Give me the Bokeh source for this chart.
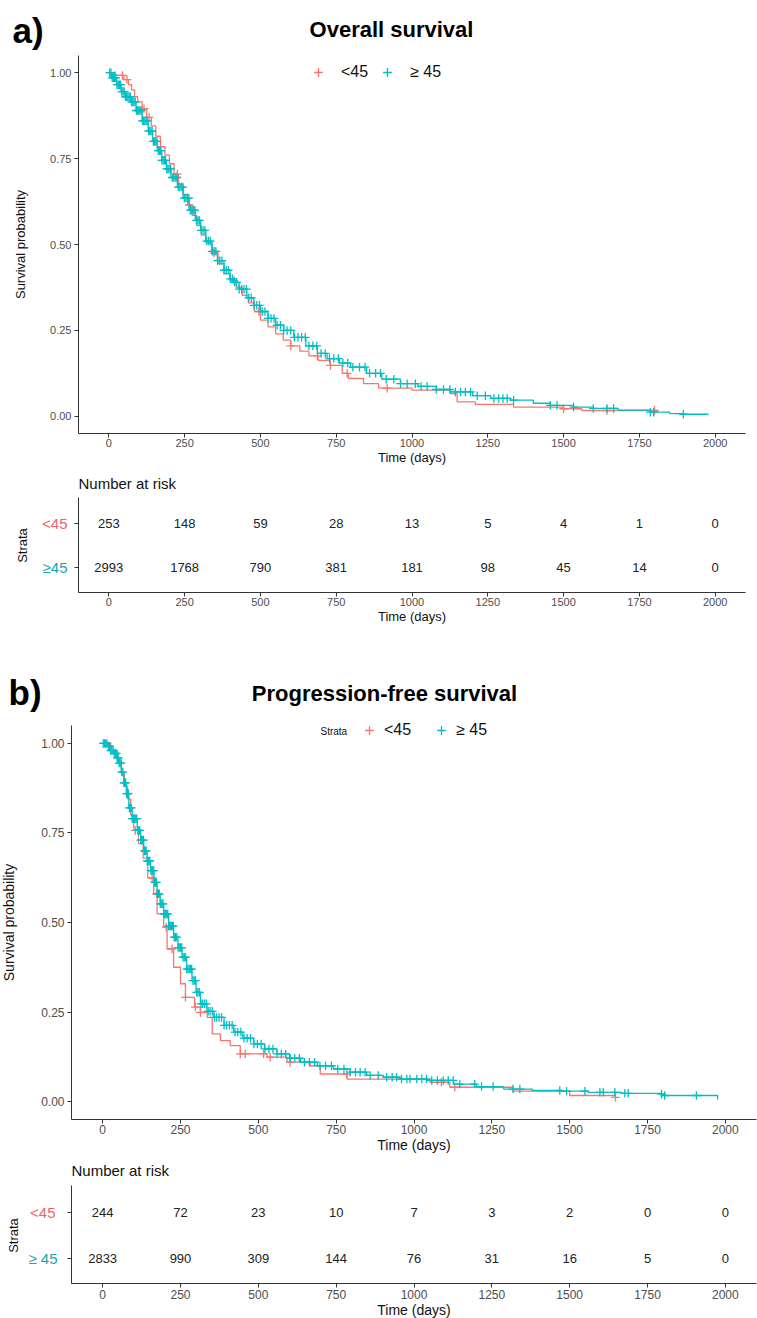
import numpy as np
from bokeh.plotting import figure
from bokeh.models import (ColumnDataSource, Range1d, FixedTicker, NumeralTickFormatter,
                          Label, Legend, LegendItem)
from bokeh.layouts import column
from bokeh.embed import file_html
from bokeh.resources import INLINE
from bokeh.core.properties import value

# ---------------- data ----------------
strata = ["<45", "≥ 45"]
x_ticks = [0, 250, 500, 750, 1000, 1250, 1500, 1750, 2000]
y_ticks = [0.0, 0.25, 0.5, 0.75, 1.0]

# Overall survival, <45
os_lo_t = [0, 20, 50, 65, 75, 85, 95, 110, 125, 140, 155, 170, 185, 200, 215, 230, 245, 260,
           275, 290, 305, 320, 340, 360, 380, 400, 420, 440, 460, 480, 500, 525, 550, 575,
           600, 630, 660, 690, 730, 770, 790, 840, 890, 1000, 1127, 1149, 1209, 1335, 1500,
           1560, 1808]
os_lo_s = [1.0, 0.992, 0.98, 0.965, 0.95, 0.93, 0.915, 0.895, 0.87, 0.845, 0.815, 0.785,
           0.76, 0.735, 0.705, 0.675, 0.645, 0.615, 0.585, 0.555, 0.527, 0.505, 0.475,
           0.445, 0.415, 0.395, 0.375, 0.352, 0.33, 0.305, 0.28, 0.26, 0.24, 0.222, 0.205,
           0.19, 0.176, 0.163, 0.148, 0.125, 0.11, 0.095, 0.082, 0.076, 0.066, 0.042, 0.035,
           0.027, 0.022, 0.017, 0.017]
os_lo_cens = [20, 45, 60, 116, 133, 171, 226, 265, 347, 413, 495, 600, 688, 731, 786, 918,
              1500, 1643, 1800]

# Overall survival, >=45
os_hi_t = [0, 10, 25, 40, 55, 72, 90, 110, 130, 145, 160, 175, 190, 205, 226, 245, 265, 285,
           303, 320, 340, 358, 380, 400, 412, 430, 455, 478, 500, 525, 550, 577, 610, 650,
           688, 720, 760, 797, 850, 900, 962, 1020, 1080, 1127, 1200, 1260, 1325, 1400, 1456,
           1530, 1598, 1680, 1786, 1850, 1895, 1977]
os_hi_s = [1.0, 0.985, 0.965, 0.945, 0.93, 0.915, 0.89, 0.86, 0.83, 0.80, 0.773, 0.745,
           0.72, 0.695, 0.667, 0.635, 0.60, 0.57, 0.541, 0.51, 0.48, 0.453, 0.425, 0.40,
           0.39, 0.37, 0.345, 0.323, 0.305, 0.285, 0.265, 0.25, 0.23, 0.205, 0.183, 0.168,
           0.155, 0.143, 0.125, 0.108, 0.095, 0.087, 0.078, 0.071, 0.06, 0.052, 0.047, 0.038,
           0.032, 0.027, 0.023, 0.018, 0.012, 0.008, 0.006, 0.005]
os_hi_cens = [3, 7, 11, 15, 19, 23, 27, 31, 35, 39, 43, 47, 51, 55, 59, 63, 67, 71, 75, 79,
              83, 87, 91, 95, 99, 103, 107, 111, 115, 119, 123, 127, 131, 135, 139, 143, 147,
              151, 155, 159, 163, 167, 171, 175, 179, 183, 187, 191, 195, 199, 204, 209, 214,
              219, 224, 229, 234, 239, 244, 249, 254, 259, 264, 269, 274, 279, 284, 289, 294,
              299, 305, 311, 317, 323, 329, 335, 341, 347, 353, 359, 366, 373, 380, 387, 394,
              401, 408, 415, 422, 430, 438, 446, 454, 462, 470, 479, 488, 497, 506, 515, 525,
              535, 545, 555, 566, 577, 588, 600, 612, 624, 636, 648, 660, 673, 686, 700, 714,
              728, 742, 757, 772, 788, 805, 827, 845, 860, 880, 896, 915, 940, 962, 984, 1011,
              1030, 1050, 1080, 1104, 1125, 1143, 1160, 1176, 1193, 1215, 1242, 1270, 1286,
              1300, 1314, 1335, 1456, 1478, 1533, 1598, 1643, 1665, 1786, 1797, 1895]

# Progression-free survival, <45
pfs_lo_t = [0, 26, 47, 60, 70, 80, 90, 100, 115, 130, 145, 164, 175, 196, 207, 228, 250, 266,
            295, 314, 336, 352, 378, 410, 442, 528, 592, 667, 699, 785, 1051, 1115, 1318, 1500,
            1647]
pfs_lo_s = [1.0, 0.98, 0.95, 0.915, 0.88, 0.845, 0.80, 0.757, 0.72, 0.68, 0.625, 0.58, 0.524,
            0.487, 0.426, 0.375, 0.329, 0.291, 0.264, 0.249, 0.235, 0.189, 0.17, 0.156, 0.133,
            0.124, 0.11, 0.10, 0.077, 0.063, 0.054, 0.04, 0.029, 0.017, 0.012]
pfs_lo_cens = [105, 159, 173, 204, 223, 266, 298, 314, 442, 458, 517, 538, 602, 784, 1088,
               1131, 1647]

# Progression-free survival, >=45
pfs_hi_t = [0, 15, 26, 36, 45, 52, 60, 68, 76, 84, 95, 111, 122, 132, 143, 154, 165, 175, 185,
            196, 212, 228, 242, 255, 270, 287, 300, 314, 335, 357, 390, 421, 450, 485, 520, 560,
            600, 635, 690, 741, 795, 848, 902, 955, 1041, 1128, 1200, 1288, 1380, 1474, 1560,
            1667, 1795, 1805, 1975]
pfs_hi_s = [1.0, 0.993, 0.98, 0.972, 0.96, 0.945, 0.92, 0.89, 0.86, 0.82, 0.79, 0.757, 0.73,
            0.70, 0.672, 0.645, 0.612, 0.58, 0.552, 0.524, 0.49, 0.459, 0.43, 0.403, 0.37,
            0.338, 0.305, 0.273, 0.252, 0.235, 0.213, 0.194, 0.177, 0.161, 0.147, 0.133,
            0.121, 0.11, 0.10, 0.091, 0.082, 0.073, 0.068, 0.063, 0.059, 0.049, 0.042, 0.035,
            0.031, 0.029, 0.026, 0.023, 0.021, 0.017, 0.006]
pfs_hi_cens = [2, 6, 10, 14, 18, 22, 26, 30, 34, 38, 41, 44, 47, 50, 53, 56, 59, 62, 65, 68,
               71, 74, 77, 80, 83, 86, 89, 92, 95, 98, 101, 104, 107, 110, 113, 116, 119, 122,
               125, 128, 131, 134, 137, 140, 143, 146, 149, 152, 155, 158, 161, 164, 167, 170,
               173, 176, 179, 182, 185, 188, 191, 194, 197, 200, 203, 206, 209, 212, 215, 218,
               221, 224, 227, 230, 234, 238, 242, 246, 250, 254, 258, 262, 266, 270, 274, 278,
               282, 286, 290, 294, 298, 302, 306, 311, 316, 321, 327, 333, 339, 345, 352, 359,
               366, 374, 382, 390, 398, 407, 416, 425, 434, 444, 454, 464, 475, 486, 497, 509,
               521, 534, 547, 560, 574, 588, 602, 617, 632, 648, 664, 681, 698, 716, 735, 755,
               775, 795, 812, 827, 843, 859, 885, 912, 930, 944, 960, 977, 987, 1009, 1025,
               1040, 1057, 1075, 1094, 1110, 1126, 1147, 1195, 1217, 1254, 1318, 1340, 1468,
               1490, 1549, 1597, 1608, 1645, 1677, 1688, 1795, 1805, 1907]

# Number at risk
risk_times = [0, 250, 500, 750, 1000, 1250, 1500, 1750, 2000]
os_risk_lo = [253, 148, 59, 28, 13, 5, 4, 1, 0]
os_risk_hi = [2993, 1768, 790, 381, 181, 98, 45, 14, 0]
pfs_risk_lo = [244, 72, 23, 10, 7, 3, 2, 0, 0]
pfs_risk_hi = [2833, 990, 309, 144, 76, 31, 16, 5, 0]

# ---------------- style ----------------
RED = "#F8766D"
CYAN = "#00BFC4"
RED_TXT = "#E8646A"
CYAN_TXT = "#17A5AB"
FONT = "Liberation Sans"
AX = "#333333"
W = 757


def step_at(times, surv, t):
    idx = np.searchsorted(np.asarray(times), np.asarray(t), side="right") - 1
    return np.asarray(surv)[idx]


def make_fig(H, frame_px, xd, yd):
    """Figure whose frame is the whole canvas; the ggplot-style panel sits at frame_px."""
    L, R, T, B = frame_px
    sx = (R - L) / (xd[1] - xd[0])
    sy = (B - T) / (yd[1] - yd[0])
    xr = Range1d(xd[0] - L / sx, xd[1] + (W - R) / sx)
    yr = Range1d(yd[0] - (H - B) / sy, yd[1] + T / sy)
    p = figure(width=W, height=H, x_range=xr, y_range=yr, output_backend="svg",
               toolbar_location=None, tools="", min_border=0, min_border_left=0,
               min_border_right=0, min_border_top=0, min_border_bottom=0)
    p.title.visible = False
    p.outline_line_color = None
    p.grid.visible = False
    p.background_fill_color = "white"
    p.border_fill_color = "white"
    xa, ya = p.xaxis[0], p.yaxis[0]
    xa.fixed_location = yd[0]
    xa.bounds = (xd[0], xd[1])
    ya.fixed_location = xd[0]
    ya.bounds = (yd[0], yd[1])
    return p


def style_axes(p, tick_size, label_size, ylabel_standoff, xstand=1):
    for ax in (p.xaxis[0], p.yaxis[0]):
        ax.axis_line_color = AX
        ax.axis_line_width = 1
        ax.major_tick_line_color = AX
        ax.major_tick_in = 0
        ax.major_tick_out = 4
        ax.minor_tick_line_color = None
        ax.major_label_text_font = FONT
        ax.major_label_text_font_size = tick_size
        ax.major_label_text_color = "#4D4D4D"
        ax.axis_label_text_font = FONT
        ax.axis_label_text_font_style = "normal"
        ax.axis_label_text_font_size = label_size
        ax.axis_label_text_color = "#111111"
    p.xaxis[0].major_label_standoff = xstand
    p.xaxis[0].axis_label_standoff = 0
    p.yaxis[0].major_label_standoff = 3
    p.yaxis[0].axis_label_standoff = ylabel_standoff
    p.xaxis[0].ticker = FixedTicker(ticks=x_ticks)
    p.xaxis[0].axis_label = "Time (days)"


def add_text(p, H, x, y, text, size, bold=False, align="left", color="#111111", angle=0.0,
             y_data=None):
    if y_data is None:
        lab = Label(x=x, y=H - y, x_units="screen", y_units="screen", text=text)
    else:
        lab = Label(x=x, y=y_data, x_units="screen", y_units="data", text=text)
    lab.text_font = FONT
    lab.text_font_size = size
    lab.text_font_style = "bold" if bold else "normal"
    lab.text_baseline = "middle"
    lab.text_align = align
    lab.text_color = color
    lab.angle = angle
    p.add_layout(lab)


def surv_fig(H, frame_px, curves, letter, letter_xy, title, title_xy, legend_xy,
             strata_title_xy, tick_size, label_size, ystand, standoff, spacing):
    p = make_fig(H, frame_px, (-100, 2100), (-0.05, 1.05))
    cross_rs = []
    for (t, s, c, col) in curves:
        p.step(t, s, mode="after", line_color=col, line_width=1.3)
        src = ColumnDataSource(dict(x=c, y=step_at(t, s, c)))
        r = p.scatter("x", "y", source=src, marker="cross", size=8.5, line_color=col,
                      line_width=1.3)
        cross_rs.append(r)
    style_axes(p, tick_size, label_size, ystand)
    p.yaxis[0].ticker = FixedTicker(ticks=y_ticks)
    p.yaxis[0].formatter = NumeralTickFormatter(format="0.00")
    p.yaxis[0].axis_label = "Survival probability"

    leg = Legend(items=[LegendItem(label=strata[0], renderers=[cross_rs[0]]),
                        LegendItem(label=strata[1], renderers=[cross_rs[1]])],
                 orientation="horizontal", location=legend_xy, padding=0, margin=0,
                 spacing=spacing, label_standoff=standoff, glyph_width=22, glyph_height=22,
                 label_height=22, label_text_font=FONT, label_text_font_size="16px",
                 label_text_color="#111111", border_line_color=None,
                 background_fill_alpha=0)
    p.add_layout(leg)
    if strata_title_xy is not None:
        add_text(p, H, strata_title_xy[0], strata_title_xy[1], "Strata", "10px")
    add_text(p, H, letter_xy[0], letter_xy[1], letter, "35px", bold=True, color="#000000")
    add_text(p, H, title_xy[0], title_xy[1], title, "22px", bold=True, align="center",
             color="#000000")
    return p


def risk_fig(H, frame_px, yd, lo, hi, lo_lab, hi_lab, nar_y, lab_x, strata_xy,
             tick_size, label_size, xstand):
    p = make_fig(H, frame_px, (-100, 2100), yd)
    src = ColumnDataSource(dict(x=risk_times + risk_times,
                                y=[2] * len(lo) + [1] * len(hi),
                                n=[str(v) for v in lo + hi]))
    p.text(x="x", y="y", text="n", source=src, text_align="center", text_baseline="middle",
           text_font=value(FONT), text_font_size="13px", text_color="#222222")
    style_axes(p, tick_size, label_size, 0, xstand)
    p.yaxis[0].ticker = FixedTicker(ticks=[1, 2])
    p.yaxis[0].major_label_overrides = {1: "", 2: ""}
    add_text(p, H, frame_px[0], nar_y, "Number at risk", "15px")
    add_text(p, H, lab_x[0], 0, lo_lab, "15px", align="right", color=RED_TXT, y_data=2)
    add_text(p, H, lab_x[1], 0, hi_lab, "15px", align="right", color=CYAN_TXT, y_data=1)
    add_text(p, H, strata_xy[0], strata_xy[1], "Strata", "13px", align="center",
             angle=np.pi / 2)
    return p


# Panel a: canvas rows 0-470 and 470-640 of the page
pa = surv_fig(470, (78, 745, 55, 433),
              [(os_lo_t, os_lo_s, os_lo_cens, RED), (os_hi_t, os_hi_s, os_hi_cens, CYAN)],
              "a)", (12, 30), "Overall survival", (391, 29), (307, 470 - 72 - 11), None,
              "11px", "13px", 19, 12, 8)
ra = risk_fig(170, (78, 745, 27, 122), (0.43, 2.59), os_risk_lo, os_risk_hi, "<45", "≥45",
              13, (67, 67), (22, 75), "11px", "13px", 1)
# Panel b: canvas rows 640-1160 and 1160-1318
pb = surv_fig(520, (71, 756, 85, 479),
              [(pfs_lo_t, pfs_lo_s, pfs_lo_cens, RED), (pfs_hi_t, pfs_hi_s, pfs_hi_cens, CYAN)],
              "b)", (8, 52), "Progression-free survival", (384, 53), (358, 520 - 90 - 11),
              (320, 91), "12px", "14px", 21, 4, 19)
rb = risk_fig(158, (71, 756, 25, 123), (0.457, 2.587), pfs_risk_lo, pfs_risk_hi, "<45",
              "≥ 45", 10, (55, 57), (13, 75), "12px", "14px", 2)

layout = column(pa, ra, pb, rb, spacing=0)
open("out.html", "w").write(file_html(layout, INLINE))
